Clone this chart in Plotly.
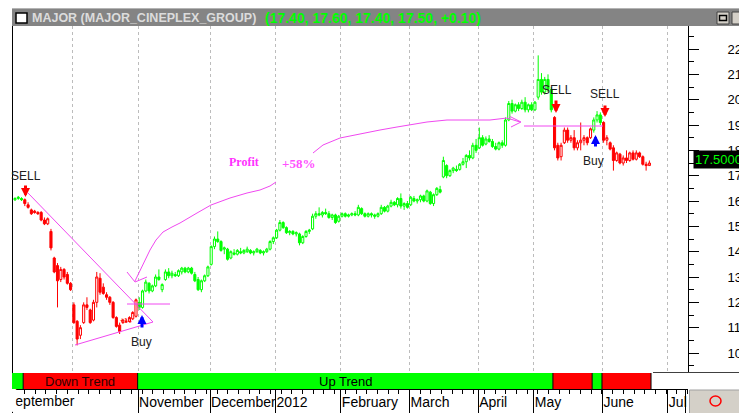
import plotly.graph_objects as go

# ---------------- data: daily OHLC, trading-day index 0 = mid Sep 2011 ----------------
opens = [
    16.05, 16.10, 16.10, 16.05, 15.85, 15.65, 15.60, 15.55, 15.55, 15.25, 15.10, 14.80, 13.75, 13.45, 12.90, 13.30, 13.10, 12.75,
    11.90, 11.25, 10.70, 11.20, 11.90, 11.70, 11.30, 12.00, 12.95, 12.60, 12.30, 12.20, 12.00, 11.40, 11.10, 11.20, 11.25, 11.25, 11.35, 11.45,
    12.00, 11.80, 12.45, 12.75, 12.45, 12.65, 13.00, 12.50, 12.90, 13.20, 13.05, 13.10, 13.05, 13.20, 13.35, 13.20, 13.35, 13.10, 12.90, 12.50, 12.85, 13.05,
    13.50, 14.20, 14.50, 14.40, 14.10, 14.10, 13.75, 13.95, 13.90, 14.00, 13.95, 14.00, 14.05, 13.95, 14.00, 14.05, 13.95, 14.00, 14.10, 14.40,
    14.55, 14.85, 15.15, 14.95, 14.75, 14.80, 14.70, 14.70, 14.35, 14.60, 14.80, 14.90, 15.40, 15.50, 15.45, 15.55, 15.50, 15.35, 15.45, 15.20,
    15.40, 15.50, 15.40, 15.45, 15.50, 15.45, 15.70, 15.50, 15.40, 15.50, 15.45, 15.40, 15.50, 15.75, 15.60, 15.80, 15.95, 15.85, 16.10, 15.80, 15.90,
    15.85, 16.10, 16.00, 16.05, 16.20, 16.00, 16.35, 15.90, 16.25, 16.45, 16.95, 17.40, 17.00, 17.20, 17.25, 17.25, 17.45, 17.55, 17.80, 17.70, 18.20,
    18.10, 18.50, 18.25, 18.45, 18.35, 18.15, 18.05, 18.30, 18.20, 19.20, 19.85, 19.55, 19.80, 19.65, 19.90, 19.60, 19.80,
    19.60, 20.10, 20.80, 20.30, 20.80, 20.40, 19.30, 18.20, 17.75, 18.30, 18.80, 18.40, 18.50, 18.10, 18.30, 18.40, 18.50, 18.50, 18.80, 19.20, 19.40,
    19.10, 18.40, 18.30, 18.10, 17.60, 17.85, 17.50, 17.70, 17.60, 17.90, 17.65, 17.90, 17.75, 17.45, 17.40,
]
highs = [
    16.15, 16.20, 16.15, 16.10, 15.95, 15.70, 15.65, 15.60, 15.60, 15.35, 15.35, 14.90, 13.80, 13.55, 13.40, 13.35, 13.20, 12.80,
    12.00, 11.30, 11.10, 12.00, 12.20, 11.75, 12.10, 13.20, 13.15, 12.75, 12.40, 12.25, 12.05, 11.45, 11.20, 11.35, 11.35, 11.45, 11.65, 12.15,
    12.20, 12.50, 12.90, 12.80, 12.70, 13.10, 13.30, 12.75, 13.30, 13.35, 13.25, 13.20, 13.30, 13.40, 13.40, 13.40, 13.40, 13.20, 13.00, 12.90, 13.10, 13.45,
    14.25, 14.60, 14.80, 14.45, 14.20, 14.15, 14.05, 14.10, 14.10, 14.15, 14.10, 14.20, 14.10, 14.05, 14.15, 14.10, 14.05, 14.15, 14.45, 14.60,
    14.90, 15.25, 15.20, 15.00, 14.85, 14.85, 14.80, 14.75, 14.65, 14.85, 14.90, 15.50, 15.60, 15.75, 15.60, 15.70, 15.60, 15.50, 15.50, 15.45,
    15.55, 15.55, 15.50, 15.55, 15.60, 15.85, 15.75, 15.55, 15.55, 15.55, 15.50, 15.55, 15.85, 15.80, 15.85, 16.05, 16.00, 16.15, 16.30, 15.95, 16.00,
    16.20, 16.20, 16.10, 16.25, 16.25, 16.45, 16.40, 16.30, 16.55, 16.60, 17.75, 17.45, 17.25, 17.35, 17.40, 17.50, 17.70, 17.85, 18.00, 18.30, 18.45,
    18.90, 18.60, 18.55, 18.60, 18.45, 18.30, 18.35, 18.40, 19.30, 19.95, 20.00, 19.85, 19.90, 20.00, 20.10, 19.85, 19.90,
    19.95, 21.75, 21.05, 20.90, 21.00, 20.50, 19.35, 18.30, 18.30, 18.90, 18.90, 18.60, 18.80, 18.40, 19.10, 18.60, 18.55, 18.90, 19.30, 19.55, 19.50,
    19.15, 18.60, 18.35, 18.20, 17.95, 17.90, 17.80, 18.00, 17.95, 18.00, 18.00, 17.95, 17.80, 17.55, 17.60,
]
lows = [
    16.00, 16.05, 16.00, 15.80, 15.70, 15.45, 15.50, 15.45, 15.20, 15.05, 15.05, 14.05, 13.15, 11.80, 12.80, 12.90, 12.70, 12.45,
    11.15, 10.30, 10.55, 11.15, 11.70, 11.15, 11.25, 11.80, 12.30, 12.30, 12.10, 11.90, 11.35, 11.00, 10.75, 11.15, 11.20, 11.20, 11.30, 11.40,
    11.70, 11.75, 12.40, 12.35, 12.40, 12.60, 12.85, 12.40, 12.85, 12.95, 12.95, 13.00, 13.00, 13.10, 13.15, 13.15, 13.10, 12.80, 12.45, 12.40, 12.80, 13.00,
    13.45, 14.10, 14.35, 14.00, 13.90, 13.65, 13.70, 13.85, 13.85, 13.90, 13.90, 13.95, 13.90, 13.85, 13.95, 13.90, 13.85, 13.95, 14.05, 14.30,
    14.50, 14.80, 14.90, 14.70, 14.65, 14.65, 14.60, 14.25, 14.30, 14.55, 14.70, 14.85, 15.30, 15.40, 15.35, 15.45, 15.30, 15.25, 15.10, 15.15,
    15.35, 15.35, 15.35, 15.40, 15.40, 15.40, 15.45, 15.35, 15.35, 15.35, 15.30, 15.35, 15.45, 15.55, 15.55, 15.75, 15.80, 15.75, 15.70, 15.65, 15.70,
    15.80, 15.95, 15.90, 15.95, 15.95, 15.95, 15.85, 15.80, 16.20, 16.30, 16.90, 16.90, 16.95, 17.10, 17.15, 17.20, 17.40, 17.30, 17.60, 17.65, 17.90,
    18.05, 18.15, 18.20, 18.30, 18.10, 18.00, 18.00, 18.10, 18.15, 19.15, 19.45, 19.50, 19.55, 19.60, 19.50, 19.50, 19.55,
    19.55, 20.00, 20.20, 20.20, 20.30, 19.50, 18.00, 17.60, 17.60, 18.25, 18.30, 18.30, 18.00, 18.00, 18.00, 18.20, 18.20, 18.45, 18.70, 19.10, 19.00,
    18.30, 18.20, 18.00, 17.20, 17.55, 17.45, 17.40, 17.50, 17.55, 17.60, 17.60, 17.70, 17.40, 17.20, 17.40,
]
closes = [
    16.10, 16.15, 16.05, 15.90, 15.75, 15.50, 15.55, 15.50, 15.25, 15.10, 15.30, 14.15, 13.20, 12.85, 13.30, 13.00, 12.75, 12.50,
    11.20, 10.55, 11.00, 11.90, 11.80, 11.20, 12.00, 13.00, 12.40, 12.35, 12.20, 12.00, 11.40, 11.05, 10.85, 11.30, 11.25, 11.40, 11.60, 12.10,
    11.80, 12.45, 12.80, 12.45, 12.65, 13.00, 12.90, 12.70, 13.20, 13.05, 13.15, 13.05, 13.25, 13.35, 13.20, 13.35, 13.15, 12.85, 12.50, 12.85, 13.05, 13.40,
    14.20, 14.50, 14.40, 14.05, 14.15, 13.70, 14.00, 13.90, 14.05, 13.95, 14.05, 14.10, 13.95, 14.00, 14.10, 13.95, 14.00, 14.10, 14.40, 14.55,
    14.85, 15.15, 14.95, 14.75, 14.80, 14.70, 14.75, 14.35, 14.60, 14.80, 14.85, 15.40, 15.50, 15.45, 15.55, 15.50, 15.35, 15.45, 15.15, 15.40,
    15.50, 15.40, 15.45, 15.50, 15.45, 15.75, 15.50, 15.40, 15.50, 15.45, 15.40, 15.50, 15.75, 15.60, 15.80, 15.95, 15.85, 16.10, 15.80, 15.90, 15.75,
    16.15, 16.00, 16.05, 16.20, 16.00, 16.40, 15.90, 16.25, 16.50, 16.35, 17.60, 17.00, 17.20, 17.30, 17.20, 17.45, 17.55, 17.80, 17.70, 18.20, 18.00,
    18.50, 18.20, 18.45, 18.35, 18.15, 18.05, 18.30, 18.20, 19.20, 19.85, 19.55, 19.80, 19.65, 19.90, 19.60, 19.80, 19.60,
    19.90, 20.80, 20.30, 20.80, 20.40, 19.60, 18.10, 17.70, 18.20, 18.80, 18.40, 18.50, 18.10, 18.30, 18.40, 18.50, 18.30, 18.85, 19.20, 19.40, 19.10,
    18.40, 18.50, 18.05, 17.60, 17.90, 17.50, 17.70, 17.60, 17.90, 17.65, 17.90, 17.75, 17.45, 17.40, 17.50,
]
assert len(opens) == len(highs) == len(lows) == len(closes) == 195

# trend segments (first day index of each segment) and their direction
trend_starts = [0, 3, 38, 165, 177, 180]
trend_up = [True, False, True, False, True, False]

# first trading-day index of each month (Oct 2011 .. Jul 2012)
month_first_idx = [18, 38, 60, 80, 100, 121, 142, 159, 180, 200]
month_labels = ["", "November", "December", "2012", "February", "March", "April", "May", "June", "Jul"]
first_month_label = "September"

y_ticks = list(range(10, 23))

# ---------------- geometry helpers (screen pixels -> data / paper) ----------------
W, H = 739, 413
ML, MR, MT, MB = 12, 51, 26, 24
PX0, PXD = 15.0, 3.27        # pixel of day 0, pixels per day
PY10, PYU = 353.0, 25.33     # pixel of price 10, pixels per unit


def ix(px):
    return (px - PX0) / PXD


def vy(py):
    return 10 + (PY10 - py) / PYU


def fx(px):
    return (px - ML) / (W - ML - MR)


def fy(py):
    return (H - MB - py) / (H - MT - MB)


GREEN, RED, MAG = "#00ff00", "#ff0000", "#f048f0"
FONT = "Liberation Sans"

n = len(closes)
trend_of = []
for i in range(n):
    k = max(j for j, s in enumerate(trend_starts) if s <= i)
    trend_of.append(trend_up[k])

fig = go.Figure()

for up, col in ((True, GREEN), (False, RED)):
    idx = [i for i in range(n) if trend_of[i] == up]
    fig.add_trace(go.Candlestick(
        x=idx,
        open=[opens[i] for i in idx], high=[highs[i] for i in idx],
        low=[lows[i] for i in idx], close=[closes[i] for i in idx],
        increasing=dict(line=dict(color=col, width=1), fillcolor="white"),
        decreasing=dict(line=dict(color=col, width=1), fillcolor=col),
        whiskerwidth=0, hoverinfo="skip", showlegend=False,
        xaxis="x", yaxis="y"))

# hand-drawn magenta study lines (screen pixels)
study_lines = [
    [(28, 193), (153, 322)],
    [(75, 345), (153, 322)],
    [(127, 304), (170, 304)],
    [(127, 272), (135, 282), (147, 277)],
    [(135, 281), (140, 271), (145, 261), (150, 250), (156, 240), (163, 232), (172, 227), (180, 223),
     (197, 213), (211, 205), (230, 198), (247, 193), (260, 190), (270, 186), (276, 182)],
    [(313, 153), (323, 145), (340, 138), (363, 133), (380, 130), (397, 127), (410, 125), (427, 122),
     (447, 120), (470, 120), (490, 120), (507, 118), (520, 122)],
    [(509, 116), (521, 122), (511, 127)],
    [(524, 126), (603, 126)],
]
for pts in study_lines:
    fig.add_trace(go.Scatter(x=[ix(p[0]) for p in pts], y=[vy(p[1]) for p in pts], mode="lines",
                             line=dict(color=MAG, width=1), hoverinfo="skip", showlegend=False,
                             xaxis="x", yaxis="y"))

x_lo, x_hi = ix(12), ix(688)
grid_x = [m - 0.35 for m in month_first_idx]

fig.update_layout(
    template="none",
    width=W, height=H,
    margin=dict(l=ML, r=MR, t=MT, b=MB, pad=0),
    paper_bgcolor="white", plot_bgcolor="white",
    showlegend=False,
    boxgap=0.08,
    font=dict(family=FONT, size=13, color="black"),
    xaxis=dict(domain=[0, 1], anchor="y", range=[x_lo, x_hi], rangeslider=dict(visible=False),
               tickmode="array", tickvals=grid_x, showticklabels=False, ticks="",
               showgrid=True, gridcolor="#bcbcbc", gridwidth=1, griddash="3px,3px",
               showline=False, zeroline=False, automargin=False, fixedrange=True),
    yaxis=dict(domain=[fy(372), 1], anchor="x", side="right", range=[vy(372), vy(26)],
               tickmode="array", tickvals=y_ticks, ticktext=[str(v) for v in y_ticks],
               ticks="outside", ticklen=10, tickwidth=1, tickcolor="black",
               minor=dict(tickmode="linear", tick0=9.5, dtick=1, ticks="outside", ticklen=5,
                          tickcolor="black", showgrid=False),
               showline=True, linecolor="black", linewidth=1, showgrid=False, zeroline=False,
               ticklabelstandoff=26, tickfont=dict(size=13, color="black"),
               automargin=False, fixedrange=True),
    xaxis2=dict(domain=[0, 1], anchor="y2", range=[x_lo, x_hi],
                tickmode="array", tickvals=grid_x[1:], ticktext=month_labels[1:],
                ticks="outside", ticklen=24, tickwidth=1, tickcolor="black", tickangle=0,
                ticklabelposition="outside right", ticklabelstandoff=0,
                minor=dict(tickmode="linear", tick0=-0.35, dtick=3.27, ticks="outside", ticklen=4,
                           tickcolor="black", showgrid=False),
                tickfont=dict(size=14, color="black"),
                showline=True, linecolor="black", linewidth=1, showgrid=False, zeroline=False,
                automargin=False, fixedrange=True),
    yaxis2=dict(domain=[0, fy(373)], anchor="x2", range=[0, 1], visible=False, fixedrange=True),
)

shapes = []
# title bar
shapes.append(dict(type="rect", xref="paper", yref="paper", x0=fx(12), x1=fx(739), y0=fy(26), y1=fy(8),
                   fillcolor="#848484", line=dict(width=0), layer="above"))
shapes.append(dict(type="line", xref="paper", yref="paper", x0=fx(12), x1=fx(739), y0=fy(8.5), y1=fy(8.5),
                   line=dict(color="#b4b4b4", width=1)))
shapes.append(dict(type="rect", xref="paper", yref="paper", x0=fx(16), x1=fx(27), y0=fy(23), y1=fy(13),
                   fillcolor="white", line=dict(color="black", width=1.5)))
shapes.append(dict(type="rect", xref="paper", yref="paper", x0=fx(717), x1=fx(729), y0=fy(24), y1=fy(12),
                   fillcolor="#d4d0c8", line=dict(color="#404040", width=1)))
shapes.append(dict(type="rect", xref="paper", yref="paper", x0=fx(719.5), x1=fx(726.5), y0=fy(20.5), y1=fy(15.5),
                   fillcolor="#d4d0c8", line=dict(color="black", width=1.5)))
shapes.append(dict(type="rect", xref="paper", yref="paper", x0=fx(732), x1=fx(744), y0=fy(24), y1=fy(12),
                   fillcolor="#d4d0c8", line=dict(color="#404040", width=1)))
# left frame line
shapes.append(dict(type="line", xref="paper", yref="paper", x0=fx(12.5), x1=fx(12.5), y0=fy(413), y1=fy(26),
                   line=dict(color="black", width=1)))
# right-hand bottom line
shapes.append(dict(type="line", xref="paper", yref="paper", x0=fx(653), x1=fx(739), y0=fy(372.5), y1=fy(372.5),
                   line=dict(color="#404040", width=1)))

# trend band
edges = [x_lo] + [s - 0.5 for s in trend_starts[1:]] + [n - 0.5]
for k in range(len(trend_starts)):
    shapes.append(dict(type="rect", xref="x2", yref="y2", x0=edges[k], x1=edges[k + 1], y0=0, y1=1,
                       fillcolor=GREEN if trend_up[k] else RED, line=dict(width=0), layer="above"))
for e in edges[1:]:
    shapes.append(dict(type="line", xref="x2", yref="y2", x0=e, x1=e, y0=0, y1=1,
                       line=dict(color="black", width=1), layer="above"))

# bottom-right status box
shapes.append(dict(type="rect", xref="paper", yref="paper", x0=fx(689.5), x1=fx(745), y0=fy(414), y1=fy(390),
                   fillcolor="#d4d0c8", line=dict(color="#a0a0a0", width=1)))
shapes.append(dict(type="circle", xref="paper", yref="paper", x0=fx(710), x1=fx(721), y0=fy(406), y1=fy(396),
                   line=dict(color=RED, width=1.5)))
shapes.append(dict(type="line", xref="paper", yref="paper", x0=fx(685.5), x1=fx(685.5), y0=fy(413), y1=fy(389),
                   line=dict(color="black", width=1)))
fig.update_layout(shapes=shapes)

ann = []
# header
ann.append(dict(xref="paper", yref="paper", x=fx(30), y=fy(17.5), xanchor="left", yanchor="middle",
                text="<b>MAJOR (MAJOR_CINEPLEX_GROUP)</b>", showarrow=False,
                font=dict(family=FONT, size=12.5, color="#dcdcdc")))
chg = closes[-1] - closes[-2]
ann.append(dict(xref="paper", yref="paper", x=fx(263), y=fy(17.5), xanchor="left", yanchor="middle",
                text="<b>(%.2f, %.2f, %.2f, %.2f, %+.2f)</b>" % (opens[-1], highs[-1], lows[-1], closes[-1], chg),
                showarrow=False, font=dict(family=FONT, size=14, color=GREEN)))
# last price box
ann.append(dict(xref="paper", yref="paper", x=fx(693), y=fy(159), xanchor="left", yanchor="middle",
                text="%.4f" % closes[-1], showarrow=False, bgcolor="black", borderpad=1,
                font=dict(family=FONT, size=13, color=GREEN)))
# band labels
down_mid = (edges[1] + edges[2]) / 2
up_mid = (edges[2] + edges[3]) / 2
ann.append(dict(xref="x2", yref="y2", x=down_mid, y=0.5, text="Down Trend", showarrow=False,
                font=dict(family=FONT, size=13, color="#300000")))
ann.append(dict(xref="x2", yref="y2", x=up_mid, y=0.5, text="Up Trend", showarrow=False,
                font=dict(family=FONT, size=13, color="black")))
# September label (its first letter hidden at the left edge, as in the window)
ann.append(dict(xref="paper", yref="paper", x=fx(4), y=fy(401), xanchor="left", yanchor="middle",
                text=first_month_label, showarrow=False, font=dict(family=FONT, size=14, color="black")))
ann.append(dict(xref="paper", yref="paper", x=fx(-2), y=fy(400), xanchor="left", yanchor="middle",
                text="\u2588", showarrow=False, font=dict(family="DejaVu Sans", size=19, color="white")))
# signal texts
for txt, px, py in [("SELL", 26, 176), ("SELL", 557, 90), ("SELL", 604.5, 94),
                    ("Buy", 141.5, 342), ("Buy", 593.5, 161)]:
    ann.append(dict(xref="x", yref="y", x=ix(px), y=vy(py), text=txt, showarrow=False,
                    font=dict(family=FONT, size=12, color="#202020")))
ann.append(dict(xref="x", yref="y", x=ix(243.5), y=vy(162), text="<b>Profit</b>", showarrow=False,
                font=dict(family="Liberation Serif", size=12, color="#ff30ff")))
ann.append(dict(xref="x", yref="y", x=ix(298.5), y=vy(163), text="<b>+58%</b>", showarrow=False,
                font=dict(family="Liberation Serif", size=13, color="#ff50ff")))
ann.append(dict(xref="x", yref="y", x=ix(126), y=vy(320), text="+14", showarrow=False,
                font=dict(family=FONT, size=7, color=RED)))
# signal arrows (tip pixel, tail offset)
for px, py, off, col in [(25.5, 197, -13, RED), (556, 113, -14, RED), (605, 117, -13, RED),
                         (142, 315, 14, "#0000ff"), (595.5, 135, 13, "#0000ff")]:
    ann.append(dict(xref="x", yref="y", x=ix(px), y=vy(py), ax=0, ay=off, text="", showarrow=True,
                    arrowhead=2, arrowsize=0.6, arrowwidth=3, arrowcolor=col, standoff=0))
fig.update_layout(annotations=ann)

fig.write_html("out.html", config={"displayModeBar": False},
               post_script="document.body.style.margin='0';document.body.style.padding='0';")
